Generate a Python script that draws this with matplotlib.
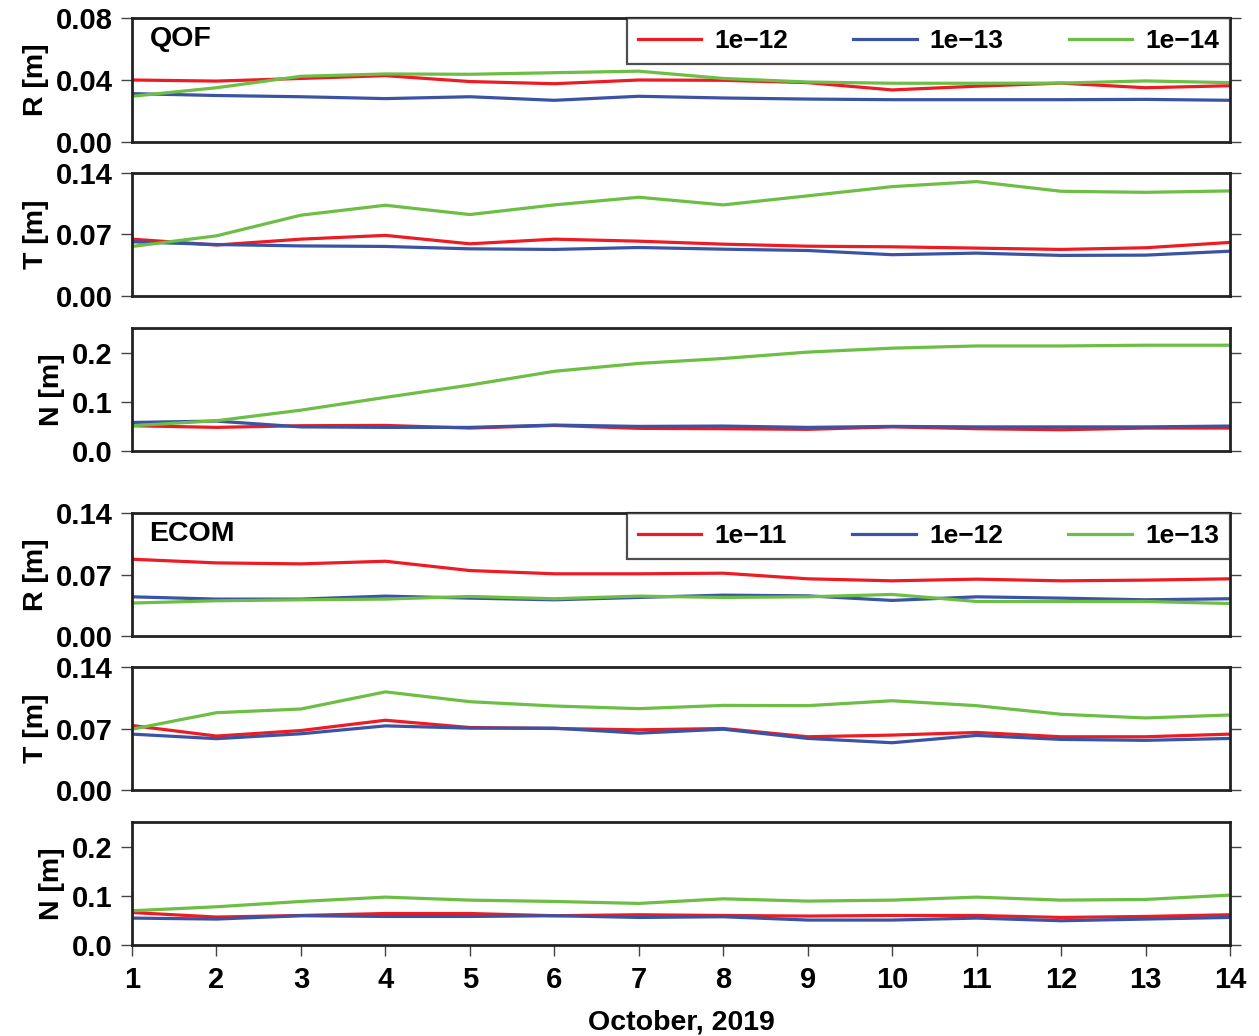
import matplotlib
matplotlib.use("Agg")
import matplotlib.pyplot as plt
from matplotlib.ticker import FormatStrFormatter

plt.rcParams['font.family'] = ['Liberation Sans', 'DejaVu Sans']
plt.rcParams['font.weight'] = 'bold'

days = list(range(1, 15))

# QOF
qof_labels = ['1e\u221212', '1e\u221213', '1e\u221214']
qof_R = [
    [0.040, 0.0393, 0.041, 0.0428, 0.039, 0.0376, 0.040, 0.0398, 0.0383, 0.0336, 0.036, 0.038, 0.035, 0.0363],
    [0.0312, 0.030, 0.0292, 0.028, 0.0292, 0.0269, 0.0295, 0.0284, 0.0277, 0.0273, 0.0273, 0.0273, 0.0275, 0.0269],
    [0.0295, 0.035, 0.0424, 0.0439, 0.0437, 0.0447, 0.0457, 0.041, 0.0387, 0.0379, 0.0379, 0.038, 0.0394, 0.0383],
]
qof_T = [
    [0.0647, 0.058, 0.0647, 0.069, 0.0594, 0.0647, 0.0624, 0.059, 0.0567, 0.056, 0.0545, 0.053, 0.0549, 0.061],
    [0.0617, 0.0586, 0.057, 0.0564, 0.0537, 0.053, 0.0552, 0.0533, 0.0518, 0.047, 0.0488, 0.0462, 0.0465, 0.051],
    [0.0564, 0.0685, 0.092, 0.1033, 0.0927, 0.1037, 0.1124, 0.1037, 0.114, 0.1245, 0.1302, 0.1192, 0.118, 0.1196],
]
qof_N = [
    [0.0514, 0.048, 0.0514, 0.052, 0.0466, 0.052, 0.046, 0.0453, 0.044, 0.049, 0.0453, 0.0432, 0.0466, 0.0466],
    [0.058, 0.0608, 0.049, 0.048, 0.048, 0.0527, 0.050, 0.0507, 0.048, 0.050, 0.049, 0.049, 0.049, 0.0507],
    [0.0514, 0.0615, 0.083, 0.109, 0.134, 0.162, 0.178, 0.188, 0.201, 0.209, 0.2135, 0.2135, 0.215, 0.215],
]

# ECOM
ecom_labels = ['1e\u221211', '1e\u221212', '1e\u221213']
ecom_R = [
    [0.0874, 0.0832, 0.0821, 0.0851, 0.0745, 0.0708, 0.0708, 0.0715, 0.0651, 0.0628, 0.0647, 0.0628, 0.0636, 0.0651],
    [0.0446, 0.042, 0.042, 0.0454, 0.0431, 0.0412, 0.0439, 0.0465, 0.0457, 0.0405, 0.0446, 0.0431, 0.0412, 0.0424],
    [0.0375, 0.0401, 0.0412, 0.042, 0.045, 0.0424, 0.0454, 0.0439, 0.0446, 0.0473, 0.0393, 0.0393, 0.0393, 0.037],
]
ecom_T = [
    [0.0734, 0.0614, 0.0677, 0.0794, 0.0711, 0.070, 0.0685, 0.070, 0.0606, 0.0625, 0.0655, 0.0606, 0.0606, 0.0636],
    [0.0636, 0.0584, 0.064, 0.073, 0.0704, 0.0704, 0.0647, 0.0692, 0.0587, 0.0538, 0.0621, 0.0576, 0.0565, 0.0587],
    [0.0692, 0.088, 0.0922, 0.1117, 0.1005, 0.0956, 0.0926, 0.0963, 0.096, 0.1016, 0.096, 0.0862, 0.082, 0.0854],
]
ecom_N = [
    [0.066, 0.0568, 0.060, 0.064, 0.064, 0.0595, 0.0615, 0.060, 0.0588, 0.060, 0.060, 0.056, 0.058, 0.0615],
    [0.0547, 0.0527, 0.0595, 0.058, 0.058, 0.0595, 0.056, 0.0574, 0.0507, 0.0507, 0.0547, 0.0493, 0.0527, 0.056],
    [0.0696, 0.0777, 0.0885, 0.0973, 0.0912, 0.0885, 0.0845, 0.0939, 0.0892, 0.0912, 0.0973, 0.0912, 0.0926, 0.1014],
]

colors = ['#ed1c24', '#3a53a4', '#6cbe45']

W, H = 1259, 1036
fig = plt.figure(figsize=(W / 100, H / 100), dpi=100)

# (top px, bottom px, data, ylabel, ylim, yticks, fmt)
panels = [
    (18, 142, qof_R, 'R [m]', 0.08, [0, 0.04, 0.08], '%.2f'),
    (173, 296, qof_T, 'T [m]', 0.14, [0, 0.07, 0.14], '%.2f'),
    (328, 451, qof_N, 'N [m]', 0.25, [0, 0.1, 0.2], '%.1f'),
    (513, 636, ecom_R, 'R [m]', 0.14, [0, 0.07, 0.14], '%.2f'),
    (667, 790, ecom_T, 'T [m]', 0.14, [0, 0.07, 0.14], '%.2f'),
    (822, 945, ecom_N, 'N [m]', 0.25, [0, 0.1, 0.2], '%.1f'),
]

left, right = 132, 1230
axes = []
for i, (top, bot, data, ylab, ymax, yt, fmt) in enumerate(panels):
    ax = fig.add_axes([left / W, 1 - bot / H, (right - left) / W, (bot - top) / H])
    labels = qof_labels if i < 3 else ecom_labels
    for series, c, lab in zip(data, colors, labels):
        ax.plot(days, series, color=c, lw=2.3, label=lab)
    ax.set_xlim(1, 14)
    ax.set_ylim(0, ymax)
    ax.set_yticks(yt)
    ax.yaxis.set_major_formatter(FormatStrFormatter(fmt))
    ax.set_ylabel(ylab, fontsize=20.5, fontweight='bold', labelpad=5)
    ax.tick_params(axis='y', direction='out', length=8, width=1.0, color='#444444',
                   left=True, right=True, labelsize=21, pad=6)
    ax.set_xticks(days)
    if i == 5:
        ax.tick_params(axis='x', direction='out', length=8, width=1.0, color='#444444',
                       labelsize=21, pad=7)
        ax.set_xlabel('October, 2019', fontsize=20.5, fontweight='bold', labelpad=11)
    else:
        ax.tick_params(axis='x', bottom=False, labelbottom=False)
    for s in ax.spines.values():
        s.set_linewidth(2.0)
        s.set_color('#222222')
    axes.append(ax)

for ax, name in [(axes[0], 'QOF'), (axes[3], 'ECOM')]:
    ax.text(0.016, 0.83, name, transform=ax.transAxes, fontsize=20.5, fontweight='bold',
            va='center', ha='left')
    x0 = (627 - left) / (right - left)
    leg = ax.legend(loc='upper left', bbox_to_anchor=(x0, 1.0, 1 - x0, 0.0), mode='expand',
                    ncol=3, fontsize=19, frameon=True, fancybox=False, borderaxespad=0,
                    handlelength=2.4, handletextpad=0.5, columnspacing=2.0,
                    borderpad=0.42)
    leg.get_frame().set_edgecolor('#222222')
    leg.get_frame().set_linewidth(1.6)

fig.savefig('out.png', dpi=100)
